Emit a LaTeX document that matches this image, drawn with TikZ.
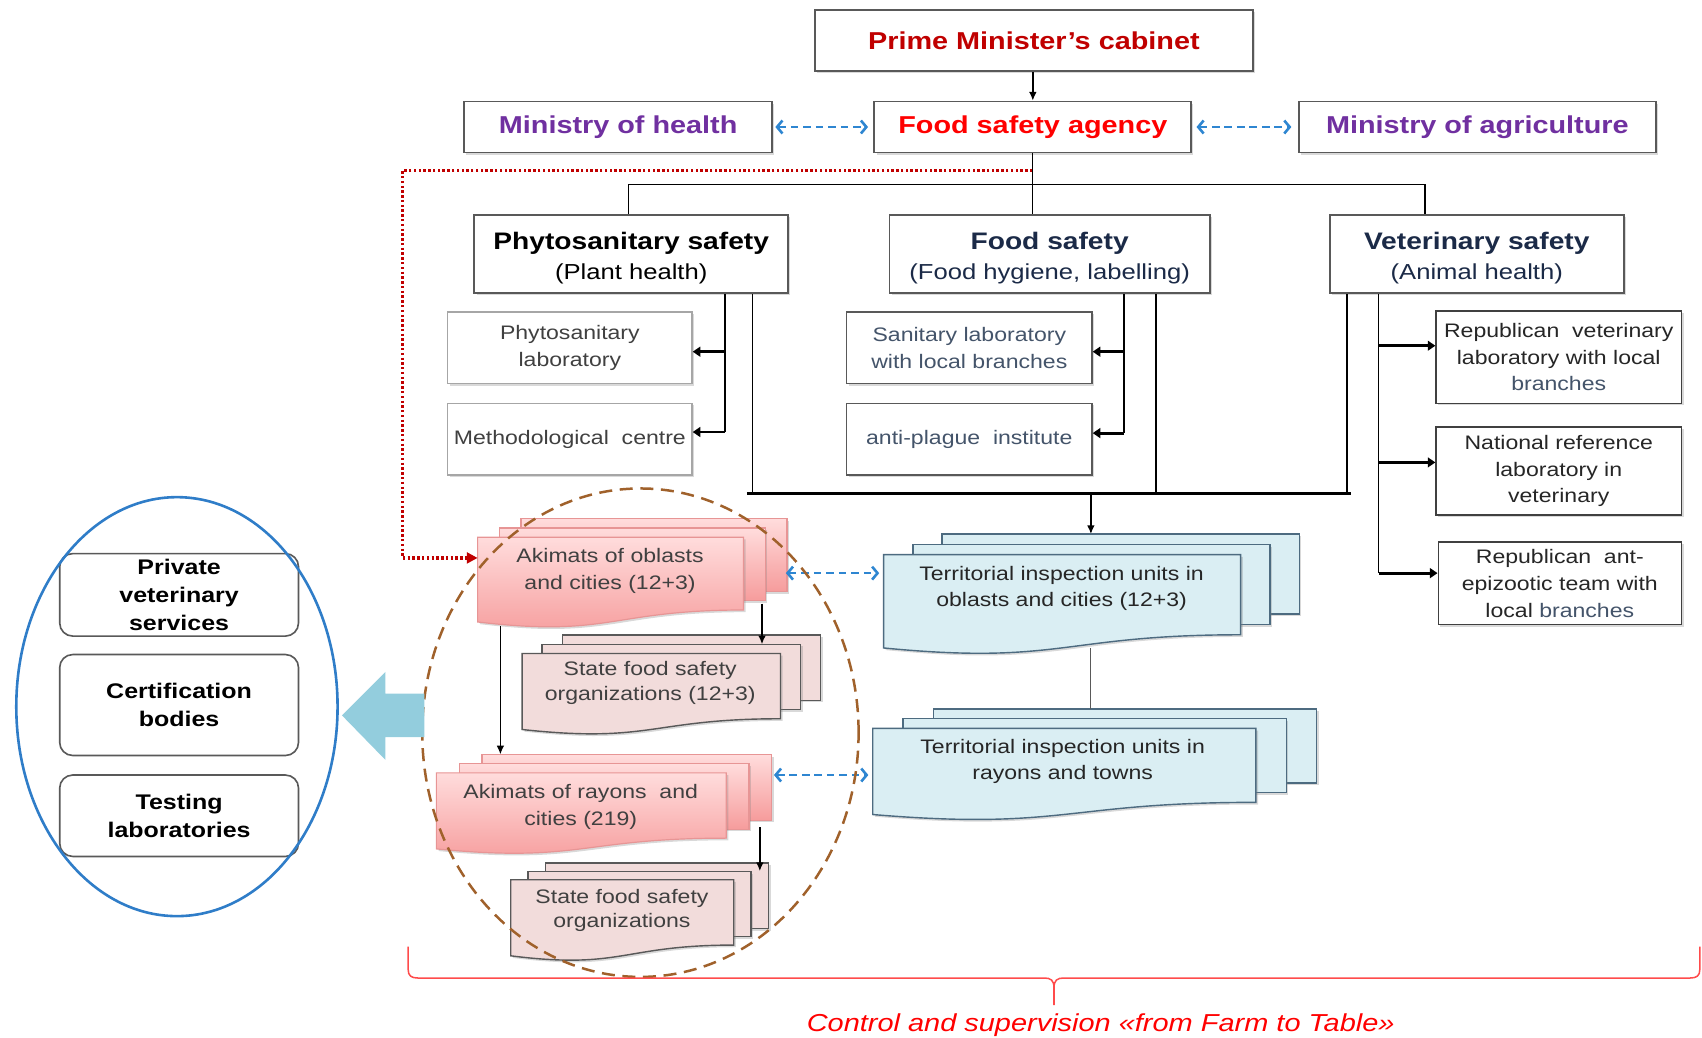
\documentclass[tikz,border=0pt]{standalone}
\usepackage{fontspec}
\setmainfont{Liberation Sans}[FakeStretch=1.18]
\usetikzlibrary{arrows.meta,shadows}

\definecolor{pmred}{HTML}{C00000}
\definecolor{agred}{HTML}{FF0000}
\definecolor{minpurple}{HTML}{7030A0}
\definecolor{navy}{HTML}{1B2A47}
\definecolor{slate}{HTML}{44546A}
\definecolor{txtgray}{HTML}{404040}
\definecolor{txtdark}{HTML}{262626}
\definecolor{boxline}{HTML}{595959}
\definecolor{lightline}{HTML}{A6A6A6}
\definecolor{dashblue}{HTML}{2E86D1}
\definecolor{dotred}{HTML}{C00000}
\definecolor{ovalbrown}{HTML}{A0612B}
\definecolor{ringblue}{HTML}{2F7DC8}
\definecolor{arrowcyan}{HTML}{93CDDD}
\definecolor{bracered}{HTML}{FF4B4B}
\definecolor{pinktop}{HTML}{FFDCDC}
\definecolor{pinkbot}{HTML}{F69C9C}
\definecolor{pinkline}{HTML}{E79595}
\definecolor{palepink}{HTML}{F2DCDB}
\definecolor{paleblue}{HTML}{DAEEF3}
\definecolor{blueline}{HTML}{4D6B80}

\newcommand\fTop{\fontsize{22.5}{27}\selectfont\bfseries}
\newcommand\fHead{\fontsize{22}{28}\selectfont\bfseries}
\newcommand\fSub{\fontsize{20}{28}\selectfont}
\newcommand\fBody{\fontsize{18}{24.6}\selectfont}
\newcommand\fTight{\fontsize{18}{22.5}\selectfont}
\newcommand\fSide{\fontsize{19.5}{25.8}\selectfont\bfseries}
\newcommand\fMotto{\fontsize{22.6}{26}\selectfont\itshape}
% extra room above a heading line, so the two lines sit a little lower in their box
\newcommand\headroom{\rule{0pt}{23pt}}

% stacked document shape: two plain back sheets and a front sheet with a wavy lower edge
% #1 left, #2 top, #3 right, #4 nominal height, #5/#6 sheet offset, #7 style
\newcommand\docstack[7]{%
  \foreach \k in {2,1}{%
    \path[#7] ({#1+\k*#5},{#2+\k*#6}) rectangle ({#3+\k*#5},{#2+0.802*#4+\k*#6});
  }%
  \path[#7] (#1,#2) -- (#3,#2) -- (#3,{#2+0.802*#4})
    .. controls ({(#1+#3)/2},{#2+0.802*#4}) and ({(#1+#3)/2},{#2+1.1075*#4}) .. (#1,{#2+0.934*#4}) -- cycle;
}

\begin{document}
\begin{tikzpicture}[x=1pt,y=-1pt,
  shadowed/.style={drop shadow={shadow xshift=2pt,shadow yshift=-2pt,opacity=0.3}},
  box/.style={draw=boxline,line width=1.6pt,fill=white,inner sep=0pt,align=center,shadowed},
  subbox/.style={box,line width=1.3pt,font=\fBody},
  sidebox/.style={draw=boxline,line width=1.5pt,rounded corners=12pt,inner sep=0pt,align=center,
    minimum width=220pt,font=\fSide,text=black},
  pinkdoc/.style={draw=pinkline,line width=1.1pt,top color=pinktop,bottom color=pinkbot,shadowed},
  rosedoc/.style={draw=boxline,line width=1.3pt,fill=palepink,shadowed},
  bluedoc/.style={draw=blueline,line width=1.3pt,fill=paleblue,shadowed},
  doctext/.style={align=center,font=\fBody,inner sep=0pt},
  conn/.style={black,line width=1.3pt},
  tip/.style={conn,-{Latex[length=8pt,width=7pt]}},
  stub/.style={black,line width=2.6pt,-{Triangle[length=7pt,width=9pt]}},
  link/.style={dashblue,line width=2.4pt,dash pattern=on 7pt off 4.5pt,
    {Straight Barb[length=5pt,width=12pt]}-{Straight Barb[length=5pt,width=12pt]}},
]
\useasboundingbox (0,0) rectangle (1568,956);

% ---------- top level ----------
\node[box,minimum width=403pt,minimum height=56pt,font=\fTop,text=pmred] (pm) at (952.5,37.5) {Prime Minister’s cabinet};
\node[box,minimum width=284pt,minimum height=47pt,font=\fTop,text=minpurple] (moh) at (569.5,117) {Ministry of health};
\node[box,minimum width=292pt,minimum height=47pt,font=\fTop,text=agred] (fsa) at (951.5,117) {Food safety agency};
\node[box,minimum width=329pt,minimum height=47pt,font=\fTop,text=minpurple] (moa) at (1361,117) {Ministry of agriculture};

\draw[tip] (pm.south -| fsa.north) -- (fsa.north);
\draw[link] ([xshift=2pt]moh.east) -- ([xshift=-5pt]fsa.west);
\draw[link] ([xshift=4pt]fsa.east) -- ([xshift=-6pt]moa.west);

% ---------- three branches ----------
\node[box,minimum width=289pt,minimum height=72pt,font=\fSub,text=black] (phy) at (581.5,234)
  {{\fHead\headroom Phytosanitary safety}\\(Plant health)};
\node[box,minimum width=295pt,minimum height=72pt,font=\fSub,text=navy] (food) at (967,234)
  {{\fHead\headroom Food safety}\\(Food hygiene, labelling)};
\node[box,minimum width=271pt,minimum height=72pt,font=\fSub,text=navy] (vet) at (1360.5,234)
  {{\fHead\headroom Veterinary safety}\\(Animal health)};

\coordinate (hub) at (951,170);
\draw[black,line width=1pt] (fsa.south) -- (fsa.south |- food.north);
\draw[black,line width=1.6pt] ([xshift=-2.5pt]phy.north) |- (hub) -| ([xshift=-47.5pt]vet.north);

% ---------- laboratories ----------
\node[subbox,draw=lightline,minimum width=225pt,minimum height=66pt,text=txtgray] (phylab) at (525,320.5) {Phytosanitary\\laboratory};
\node[subbox,draw=lightline,minimum width=225pt,minimum height=66pt,text=txtgray] (method) at (525,404.5) {Methodological\ \ centre};
\node[subbox,minimum width=226pt,minimum height=66pt,text=slate] (sanlab) at (893,320.5) {Sanitary laboratory\\with local branches};
\node[subbox,minimum width=226pt,minimum height=66pt,text=slate] (plague) at (893,404.5) {anti-plague\ \ institute};
\node[subbox,draw=txtgray,minimum width=226pt,minimum height=85pt,text=txtdark] (repvet) at (1436,329)
  {Republican\ \ veterinary\\laboratory with local\\\textcolor{slate}{branches}};
\node[subbox,draw=txtgray,minimum width=226pt,minimum height=81pt,text=txtdark] (natref) at (1436,434)
  {National reference\\laboratory in\\veterinary};
\node[subbox,draw=txtgray,minimum width=224pt,minimum height=76pt,text=txtdark] (antepi) at (1437,537.5)
  {Republican\ \ ant-\\epizootic team with\\local \textcolor{slate}{branches}};

% phytosanitary feeders
\coordinate (pA) at (668,271);  \coordinate (pB) at (693,271);
\draw[conn] (pA) -- (pA |- 0,398);
\draw[stub] (pA |- 0,324) -- (phylab.east |- 0,324);
\draw[stub] (pA |- 0,398) -- (method.east |- 0,398);
% food safety feeders
\coordinate (fA) at (1035.5,271); \coordinate (fB) at (1065,271);
\draw[conn] (fA) -- (fA |- 0,399);
\draw[stub] (fA |- 0,324) -- (sanlab.east |- 0,324);
\draw[stub] (fA |- 0,399) -- (plague.east |- 0,399);
% veterinary feeders
\coordinate (vA) at (1241,271); \coordinate (vB) at (1270,271);
\draw[conn] (vB) -- (vB |- 0,528);
\draw[stub] (vB |- 0,318.5) -- (repvet.west |- 0,318.5);
\draw[stub] (vB |- 0,426) -- (natref.west |- 0,426);
\draw[stub] (vB |- 0,528) -- (antepi.west |- 0,528);

% collecting bus to the territorial units
\coordinate (busL) at (688,455); \coordinate (busR) at (1245,455);
\draw[conn] (pB) -- (pB |- busL);
\draw[conn] (fB) -- (fB |- busL);
\draw[conn] (vA) -- (vA |- busL);
\draw[black,line width=2.6pt] (busL) -- (busR);
\coordinate (busdrop) at (1005,455);
\coordinate (terrtop) at (1005,492);
\draw[tip] (busdrop) -- (terrtop);

% ---------- regional level ----------
\docstack{440}{495}{685}{83.5}{20}{-8.5}{pinkdoc}
\node[doctext,text=txtgray] (ako) at (562,526) {Akimats of oblasts\\and cities (12+3)};

\docstack{481}{602}{719}{75}{18.5}{-8.5}{rosedoc}
\node[doctext,font=\fTight,text=txtgray] (sfs1) at (599,629) {State food safety\\organizations (12+3)};

\docstack{402}{712}{669}{75}{21}{-8.3}{pinkdoc}
\node[doctext,text=txtgray] (akr) at (535,743.5) {Akimats of rayons\ \ and\\cities (219)};

\docstack{470.5}{810.5}{676}{75}{16}{-7.7}{rosedoc}
\node[doctext,font=\fTight,text=txtgray] (sfs2) at (573,838.5) {State food safety\\organizations};

\docstack{814}{511}{1143}{92}{27}{-9.5}{bluedoc}
\node[doctext,text=txtdark] (ter1) at (978,542) {Territorial inspection units in\\oblasts and cities (12+3)};

\docstack{804}{671}{1157}{85}{28}{-9}{bluedoc}
\node[doctext,text=txtdark] (ter2) at (979,701.5) {Territorial inspection units in\\rayons and towns};

% links inside the regional level
\coordinate (akoL) at (461,577);  \coordinate (akrT) at (461,695);
\coordinate (akoR) at (702,556);  \coordinate (sfs1T) at (702,593.5);
\coordinate (akrR) at (700,762);  \coordinate (sfs2T) at (700,802.5);
\draw[tip] (akoL) -- (akrT);
\draw[tip] (akoR) -- (sfs1T);
\draw[tip] (akrR) -- (sfs2T);
\coordinate (ter1B) at (1005,597); \coordinate (ter2T) at (1005,653);
\draw[boxline,line width=1.1pt] (ter1B) -- (ter2T);

\coordinate (akoE) at (724,528); \coordinate (ter1W) at (810,528);
\coordinate (akrE) at (713,714); \coordinate (ter2W) at (800,714);
\draw[link] (akoE) -- (ter1W);
\draw[link] (akrE) -- (ter2W);

% dotted supervision line from the agency to the oblast akimats
\coordinate (dotS) at (951,157); \coordinate (dotC1) at (371,157);
\coordinate (dotC2) at (371,514); \coordinate (akoW) at (440,514);
\draw[dotred,line width=3pt,dash pattern=on 2.2pt off 2.2pt,-{Triangle[length=10pt,width=10pt]}]
  (dotS) -- (dotC1) -- (dotC2) -- (akoW);

% dashed oval around the local executive bodies
\draw[ovalbrown,line width=2.3pt,dash pattern=on 12pt off 7pt] (590,675) ellipse [x radius=201pt,y radius=225pt];

% ---------- private sector ----------
\fill[arrowcyan] (391,639) -- (355,639) -- (355,619) -- (315,659) -- (355,700) -- (355,679) -- (391,679) -- cycle;
\node[sidebox,minimum height=76pt] (priv) at (165,548) {Private\\veterinary\\services};
\node[sidebox,minimum height=93pt] (cert) at (165,649.5) {Certification\\bodies};
\node[sidebox,minimum height=75pt] (test) at (165,751.5) {Testing\\laboratories};
\draw[ringblue,line width=2.4pt] (163,651) ellipse [x radius=148pt,y radius=193pt];

% ---------- brace and motto ----------
\draw[bracered,line width=1.4pt]
  (376,872) -- (376,893) .. controls (376,899) and (379,901) .. (385,901) -- (962,901)
  .. controls (968,901) and (971,903) .. (971,910) -- (971,926);
\draw[bracered,line width=1.4pt]
  (971,910) .. controls (971,903) and (974,901) .. (980,901) -- (1557,901)
  .. controls (1563,901) and (1566,899) .. (1566,893) -- (1566,872);
\node[font=\fMotto,text=agred,inner sep=0pt] (motto) at (1014,944) {Control and supervision «from Farm to Table»};
\end{tikzpicture}
\end{document}
